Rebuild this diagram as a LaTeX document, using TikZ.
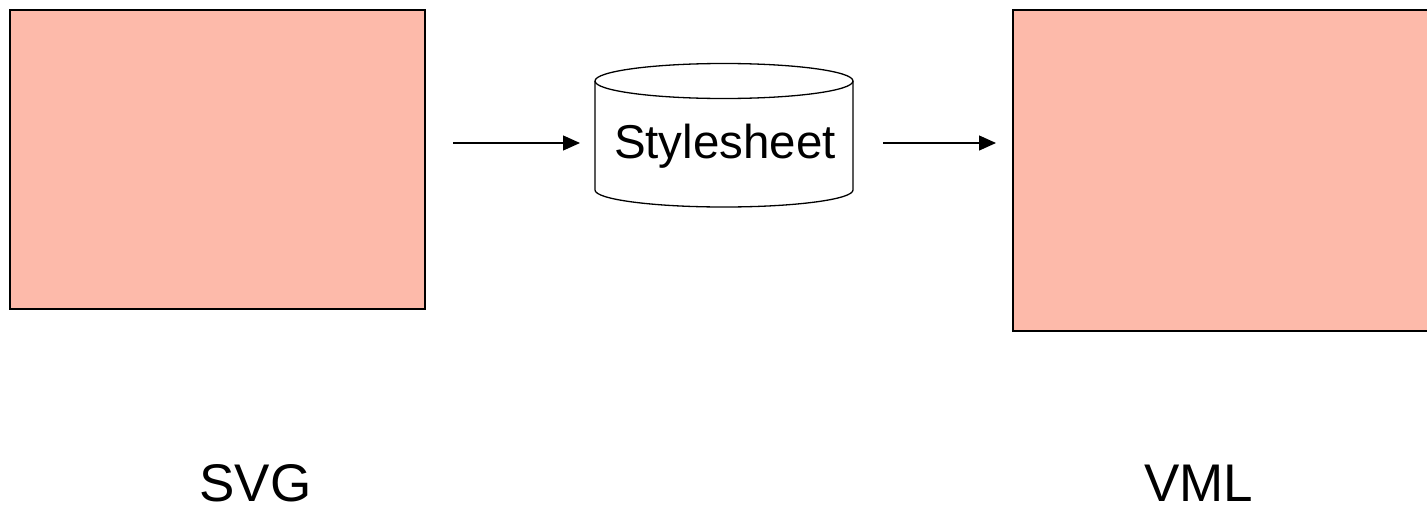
\documentclass[tikz,border=0pt]{standalone}
\usepackage{fontspec}
\setmainfont{Liberation Sans}
\usetikzlibrary{arrows.meta}
\definecolor{salmon}{RGB}{253,186,170}
\tikzset{
  docbox/.style={draw=black, fill=salmon, line width=2pt, inner sep=0pt, outer sep=0pt},
  cyl/.style={draw=black, line width=1.3pt},
  arr/.style={line width=1.3pt, -{Triangle[length=17pt,width=15pt]}},
  bigtext/.style={font=\fontsize{53}{60}\selectfont, anchor=base, inner sep=0pt},
  dbtext/.style={font=\fontsize{47.5}{52}\selectfont, anchor=base, inner sep=0pt}
}
\begin{document}
\begin{tikzpicture}[x=1pt, y=-1pt]
  \useasboundingbox (0,0) rectangle (1427,506);
  % source and target documents
  \node[docbox, minimum width=415pt, minimum height=299pt] (svg) at (217.5,159.5) {};
  \node[docbox, minimum width=417pt, minimum height=321pt] (vml) at (1221.5,170.5) {};
  % stylesheet cylinder
  \draw[cyl] (595,81) -- (595,190) arc[start angle=180, end angle=0, x radius=129, y radius=17] -- (853,81);
  \draw[cyl] (724,81) ellipse[x radius=129, y radius=17.5];
  \node[minimum width=258pt, minimum height=144pt, inner sep=0pt, outer sep=0pt] (db) at (724,135) {};
  \node[dbtext] (sty) at (725,158) {Stylesheet};
  % transformation flow
  \coordinate (lvl) at (0,143);
  \draw[arr, shorten <=28pt, shorten >=15pt] (svg.east |- lvl) -- (db.west |- lvl);
  \draw[arr, shorten <=30pt, shorten >=17pt] (db.east |- lvl) -- (vml.west |- lvl);
  % captions
  \node[bigtext] (svglabel) at (255.5,501) {SVG};
  \node[bigtext] (vmllabel) at (1198.5,501) {VML};
\end{tikzpicture}
\end{document}
